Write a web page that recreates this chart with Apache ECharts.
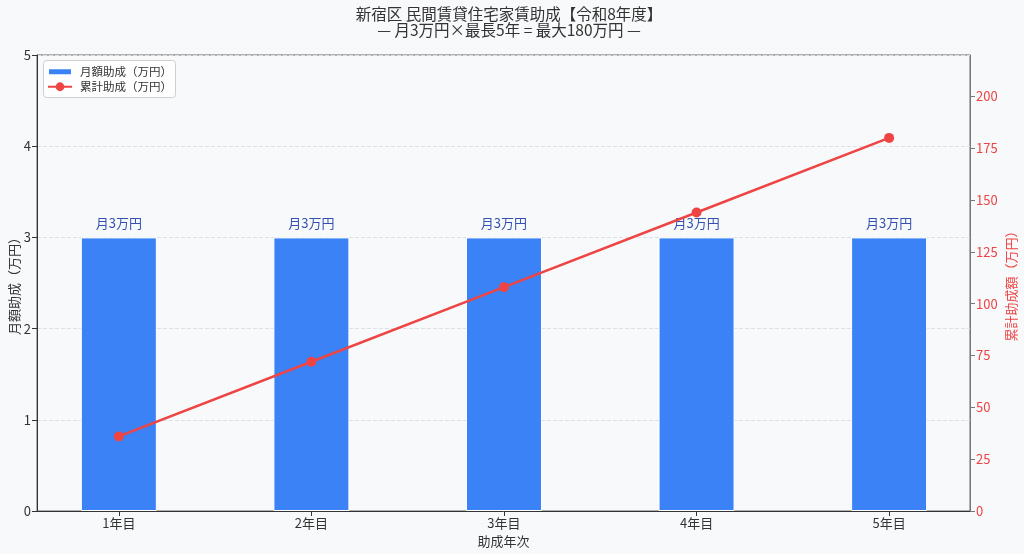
<!DOCTYPE html>
<html><head><meta charset="utf-8">
<script src="https://cdn.jsdelivr.net/npm/echarts@6/dist/echarts.min.js"></script>
<style>html,body{margin:0;padding:0;background:#f8f9fb;}#c{width:1024px;height:554px;}</style>
</head><body><div id="c"></div>
<script>
const categories = ['1年目','2年目','3年目','4年目','5年目'];
const monthly = [3,3,3,3,3];
const cumulative = [36,72,108,144,180];
const barLabels = ['月3万円','月3万円','月3万円','月3万円','月3万円'];
const rightTicks = [0,25,50,75,100,125,150,175,200];
const xTicks = [0,1,2,3,4];
const font = '"Noto Sans CJK JP","Noto Sans",sans-serif';
const chart = echarts.init(document.getElementById('c'));
chart.setOption({
  backgroundColor:'#f8f9fb',
  textStyle:{fontFamily:font},
  title:{text:'新宿区 民間賃貸住宅家賃助成【令和8年度】\n— 月3万円×最長5年 = 最大180万円 —',left:504,top:1,textAlign:'center',
    textStyle:{fontSize:15.5,fontWeight:'normal',color:'#333',lineHeight:16,fontFamily:font}},
  grid:{left:37,right:54,top:55,bottom:43,outerBoundsMode:'none',containLabel:false,show:true,borderColor:'#666',borderWidth:1,backgroundColor:'transparent'},
  graphic:[{type:'rect',left:43,top:60,shape:{width:132,height:37,r:3},z:10,
    style:{fill:'rgba(255,255,255,0.8)',stroke:'#cfcfcf',lineWidth:1}}],
  legend:[
    {orient:'vertical',left:47,top:66,itemWidth:24,itemHeight:7,padding:0,z:11,
      textStyle:{fontSize:11.5,color:'#333',fontFamily:font,padding:[0,0,0,3]},
      data:[{name:'月額助成（万円）',icon:'rect'}]},
    {orient:'vertical',left:47,top:81,itemWidth:24,itemHeight:11,padding:0,z:11,
      textStyle:{fontSize:11.5,color:'#333',fontFamily:font,padding:[0,0,0,3]},
      data:[{name:'累計助成（万円）'}]}
  ],
  xAxis:{type:'value',min:-0.425,max:4.42,name:'助成年次',nameLocation:'middle',nameGap:23,
    nameTextStyle:{fontSize:13,color:'#333'},
    axisLine:{onZero:false,lineStyle:{color:'#333'}},
    axisTick:{show:true,customValues:xTicks,lineStyle:{color:'#333'}},
    axisLabel:{fontSize:13,color:'#333',margin:6,customValues:xTicks,formatter:v=>categories[v]},
    splitLine:{show:false}},
  yAxis:[
    {type:'value',min:0,max:5,interval:1,name:'月額助成（万円）',nameLocation:'middle',nameGap:16,nameMoveOverlap:false,
      nameTextStyle:{fontSize:13,color:'#333'},
      axisLine:{show:true,onZero:false,lineStyle:{color:'#333'}},axisTick:{show:true,lineStyle:{color:'#333'}},
      axisLabel:{fontSize:13,color:'#333',margin:6},
      splitLine:{lineStyle:{type:'dashed',color:'#dde0e6'}}},
    {type:'value',min:0,max:220,interval:25,name:'累計助成額（万円）',nameLocation:'middle',nameGap:35,nameMoveOverlap:false,
      nameTextStyle:{fontSize:13,color:'#ef4444'},
      axisLine:{show:true,onZero:false,lineStyle:{color:'#777'}},
      axisTick:{show:true,customValues:rightTicks,lineStyle:{color:'#777'}},
      axisLabel:{fontSize:13,color:'#ef4444',margin:6,customValues:rightTicks},
      splitLine:{show:false}}
  ],
  series:[
    {name:'月額助成（万円）',type:'bar',data:monthly.map((v,i)=>[i,v]),barWidth:76,yAxisIndex:0,
      itemStyle:{color:'#3b82f6',borderColor:'#fff',borderWidth:1},
      label:{show:true,position:'top',distance:8,fontSize:13,color:'#3451b2',
        formatter:p=>barLabels[p.dataIndex]}},
    {name:'累計助成（万円）',type:'line',data:cumulative.map((v,i)=>[i,v]),yAxisIndex:1,symbol:'circle',symbolSize:10,
      lineStyle:{color:'#ef4444',width:2.5},itemStyle:{color:'#ef4444'},z:5}
  ]
});
</script></body></html>
